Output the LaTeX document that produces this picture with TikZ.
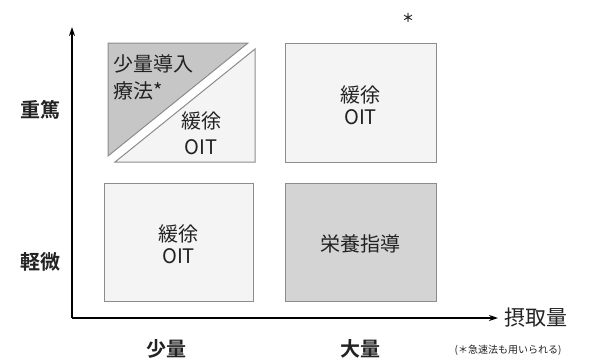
\documentclass[tikz,border=0pt]{standalone}
\usepackage{fontspec}
\setmainfont{Noto Sans CJK JP}[BoldFont={Noto Sans CJK JP Bold}]
\usetikzlibrary{arrows.meta}
\definecolor{boxlight}{HTML}{F4F4F4}
\definecolor{boxdark}{HTML}{D4D4D4}
\definecolor{tridark}{HTML}{C6C6C6}
\definecolor{boxline}{HTML}{8C8C8C}
\definecolor{txt}{HTML}{222222}
\begin{document}
\begin{tikzpicture}[x=1pt,y=-1pt,
  panel/.style={draw=boxline,line width=1pt},
  celltext/.style={text=txt,font=\fontsize{20}{22}\selectfont,align=center,inner sep=0pt},
  axislabel/.style={text=txt,font=\bfseries\fontsize{20}{22}\selectfont,inner sep=0pt},
  axisline/.style={line width=1.4pt,-{Stealth[length=9pt,width=6pt]}}]
\useasboundingbox (0,0) rectangle (589,360);
% axes
\coordinate (O) at (72,318);
\coordinate (ytip) at (72,27);
\coordinate (xtip) at (498,318);
\draw[axisline] (O) -- (ytip);
\draw[axisline] (O) -- (xtip);
% top-left split box
\fill[tridark,panel] (108,43) -- (248,43) -- (108,156) -- cycle;
\fill[boxlight,panel] (255,49) -- (255,162) -- (115,162) -- cycle;
\node[celltext,anchor=west,align=left] (tl1) at (113,64) {少量導入};
\node[celltext,anchor=west,align=left] (tl2) at (113,91) {療法*};
\node[celltext] (tl3) at (201,121) {緩徐};
\node[celltext] (tl4) at (201,147) {OIT};
% top-right box
\draw[panel,fill=boxlight] (285,43) rectangle (436,162);
\node[celltext] (tr) at (360.5,105) {緩徐\\OIT};
% bottom-left box
\draw[panel,fill=boxlight] (104,183) rectangle (253,301);
\node[celltext] (bl) at (178.5,244) {緩徐\\OIT};
% bottom-right box
\draw[panel,fill=boxdark] (285,183) rectangle (436,301);
\node[celltext] (br) at (360.5,244) {栄養指導};
% axis labels
\node[axislabel] (hi) at (40,110) {重篤};
\node[axislabel] (lo) at (40,262) {軽微};
\node[axislabel] (sm) at (166,349) {少量};
\node[axislabel] (lg) at (360,349) {大量};
\node[celltext,font=\fontsize{21}{22}\selectfont,anchor=west] (xl) at (504,318) {摂取量};
\node[text=txt,font=\fontsize{10}{12}\selectfont,inner sep=0pt] (note) at (508,350) {(＊急速法も用いられる)};
\node[text=txt,font=\bfseries\fontsize{12}{12}\selectfont,inner sep=0pt] (ast) at (408,18) {＊};
\end{tikzpicture}
\end{document}
